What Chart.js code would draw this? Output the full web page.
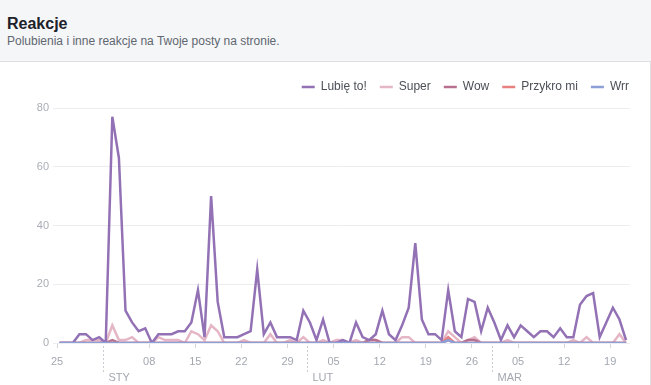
<!DOCTYPE html>
<html lang="pl">
<head>
<meta charset="utf-8">
<script src="https://cdn.jsdelivr.net/npm/chart.js@4/dist/chart.umd.min.js"></script>
<style>
  body { margin: 0; width: 651px; height: 385px; overflow: hidden; background: #fff;
         font-family: Helvetica, Arial, "Liberation Sans", sans-serif; }
  .head { position: absolute; left: 0; top: 0; width: 651px; height: 61px; background: #f5f6f7; }
  .head h1 { position: absolute; left: 7px; top: 14px; margin: 0; font-size: 16px; font-weight: bold; color: #1d2129; line-height: 19px; }
  .head p { position: absolute; left: 7px; top: 34px; margin: 0; font-size: 12px; color: #606770; line-height: 15px; }
  .card { position: absolute; left: 0; top: 61px; width: 650px; height: 324px; background: #fff;
          border-top: 1px solid #dddfe2; border-right: 1px solid #dddfe2; }
  .wrap { position: absolute; left: 0; top: 0; width: 650px; height: 323px; }
</style>
</head>
<body>
<div class="head">
  <h1>Reakcje</h1>
  <p>Polubienia i inne reakcje na Twoje posty na stronie.</p>
</div>
<div class="card">
  <div class="wrap"><canvas id="chart-1"></canvas></div>
</div>
<script>
// one value per day, 25 gru -> 21 mar
var lubie = [0, 0, 0, 3, 3, 1, 2, 0, 77, 63,
  11, 7, 4, 5, 0, 3, 3, 3, 4, 4,
  7, 18, 2, 50, 14, 2, 2, 2, 3, 4,
  25, 3, 7, 2, 2, 2, 1, 11, 7, 1,
  8, 0, 0, 1, 0, 7, 2, 1, 3, 11,
  3, 1, 6, 12, 34, 8, 3, 3, 1, 18,
  4, 2, 15, 14, 4, 12, 7, 1, 6, 2,
  6, 4, 2, 4, 4, 2, 5, 2, 2, 13,
  16, 17, 2, 7, 12, 8, 1];
var superR = [0, 0, 0, 0, 1, 1, 1, 0, 6, 1,
  1, 2, 0, 0, 0, 2, 1, 1, 1, 0,
  4, 3, 1, 6, 4, 0, 0, 0, 1, 0,
  0, 0, 3, 0, 0, 1, 0, 2, 0, 0,
  1, 0, 1, 1, 0, 1, 0, 1, 1, 0,
  0, 0, 2, 2, 0, 0, 0, 0, 0, 4,
  2, 0, 1, 2, 0, 0, 0, 0, 1, 0,
  0, 0, 0, 0, 0, 0, 0, 0, 1, 0,
  2, 0, 0, 0, 0, 3, 0];
var wow = [0, 0, 0, 0, 0, 0, 0, 0, 1, 0,
  0, 0, 0, 0, 0, 0, 0, 0, 0, 0,
  0, 0, 0, 0, 0, 0, 0, 0, 0, 0,
  0, 0, 0, 0, 0, 0, 0, 0, 0, 0,
  0, 0, 0, 0, 0, 0, 0, 1, 1, 0,
  0, 0, 0, 0, 0, 0, 0, 0, 0, 1,
  0, 0, 1, 1, 0, 0, 0, 0, 0, 0,
  0, 0, 0, 0, 0, 0, 0, 0, 0, 0,
  0, 0, 0, 0, 0, 0, 0];
var przykro = [0, 0, 0, 0, 0, 0, 0, 0, 0, 0,
  0, 0, 0, 0, 0, 0, 0, 0, 0, 0,
  0, 0, 0, 0, 0, 0, 0, 0, 0, 0,
  0, 0, 0, 0, 0, 0, 0, 0, 0, 0,
  0, 0, 0, 0, 0, 0, 0, 0, 0, 0,
  0, 0, 0, 0, 0, 0, 0, 0, 0, 2,
  0, 0, 0, 0, 0, 0, 0, 0, 0, 0,
  0, 0, 0, 0, 0, 0, 0, 0, 0, 0,
  0, 0, 0, 0, 0, 0, 0];
var wrr = [0, 0, 0, 0, 0, 0, 0, 0, 0, 0,
  0, 0, 0, 0, 0, 0, 0, 0, 0, 0,
  0, 0, 0, 0, 0, 0, 0, 0, 0, 0,
  0, 0, 0, 0, 0, 0, 0, 0, 0, 0,
  0, 0, 0, 0, 0, 0, 0, 0, 0, 0,
  0, 0, 0, 0, 0, 0, 0, 0, 0, 1,
  0, 0, 0, 0, 0, 0, 0, 0, 0, 0,
  0, 0, 0, 0, 0, 0, 0, 0, 0, 0,
  0, 0, 0, 0, 0, 0, 0];

// axis: day number counted from 25 gru
var tickDays = [0, 14, 21, 28, 35, 42, 49, 56, 63, 70, 77, 84];
var tickLabels = ["25", "08", "15", "22", "29", "05", "12", "19", "26", "05", "12", "19"];
var monthDays = [7, 38, 66];
var monthLabels = ["STY", "LUT", "MAR"];

var FONT = "Helvetica, Arial, 'Liberation Sans', sans-serif";

function pts(arr) {
  return arr.map(function (v, i) { return { x: i + 0.4, y: v }; });
}

function ds(label, arr, color, order) {
  return {
    label: label,
    data: pts(arr),
    borderColor: color,
    backgroundColor: color,
    borderWidth: 2.5,
    pointRadius: 0,
    pointHoverRadius: 0,
    tension: 0,
    fill: false,
    order: order
  };
}

// dashed month separators + month names under the day ticks
var monthMarks = {
  id: "monthMarks",
  afterDraw: function (chart) {
    var ctx = chart.ctx, x = chart.scales.x, bottom = chart.chartArea.bottom;
    ctx.save();
    monthDays.forEach(function (d, i) {
      var px = Math.round(x.getPixelForValue(d)) + 0.5;
      ctx.strokeStyle = "#c9cdd3";
      ctx.lineWidth = 1;
      ctx.setLineDash([2, 2]);
      ctx.beginPath();
      ctx.moveTo(px, bottom + 3);
      ctx.lineTo(px, bottom + 30);
      ctx.stroke();
      ctx.setLineDash([]);
      ctx.fillStyle = "#a3a8b0";
      ctx.font = "11px " + FONT;
      ctx.textBaseline = "middle";
      ctx.textAlign = "left";
      ctx.fillText(monthLabels[i], px + 5, bottom + 35);
    });
    ctx.restore();
  }
};

// a bit more room under the legend
var legendGap = {
  id: "legendGap",
  beforeInit: function (chart) {
    var fit = chart.legend.fit;
    chart.legend.fit = function () {
      fit.bind(chart.legend)();
      this.height += 5;
    };
  }
};

var myChart1 = new Chart(document.getElementById("chart-1"), {
  type: "line",
  data: {
    datasets: [
      ds("Lubię to!", lubie, "#9371b5", 1),
      ds("Super", superR, "#e4b6c6", 4),
      ds("Wow", wow, "#b8708f", 3),
      ds("Przykro mi", przykro, "#e8807f", 2),
      ds("Wrr", wrr, "#8c9fd6", 0)
    ]
  },
  options: {
    responsive: true,
    maintainAspectRatio: false,
    animation: false,
    layout: { padding: { top: 6, right: 8, left: 0, bottom: 0 } },
    plugins: {
      tooltip: { enabled: false },
      legend: {
        position: "top",
        align: "end",
        labels: {
          usePointStyle: true,
          pointStyle: "line",
          pointStyleWidth: 13,
          padding: 13,
          color: "#4b4f56",
          font: { family: FONT, size: 12 },
          sort: function (a, b) { return a.datasetIndex - b.datasetIndex; }
        }
      }
    },
    scales: {
      x: {
        type: "linear",
        min: 0,
        max: 87,
        afterBuildTicks: function (scale) {
          scale.ticks = tickDays.map(function (d) { return { value: d }; });
        },
        afterFit: function (scale) { scale.height = 42; },
        grid: { drawOnChartArea: false, tickLength: 5, color: "#d3d6db" },
        border: { display: false },
        ticks: {
          autoSkip: false,
          maxRotation: 0,
          padding: 7,
          color: "#a3a8b0",
          font: { family: FONT, size: 11 },
          callback: function (v, i) { return tickLabels[i]; }
        }
      },
      y: {
        min: 0,
        max: 80,
        afterFit: function (scale) { scale.width = 57; },
        grid: { color: "#ebedf0", tickLength: 4 },
        border: { display: false },
        ticks: {
          stepSize: 20,
          padding: 4,
          color: "#a9aeb6",
          font: { family: FONT, size: 11 }
        }
      },
      y2: {
        position: "right",
        display: true,
        afterFit: function (scale) { scale.width = 12; },
        grid: { display: false },
        border: { display: false },
        ticks: { display: false }
      }
    }
  },
  plugins: [monthMarks, legendGap]
});
</script>
</body>
</html>
